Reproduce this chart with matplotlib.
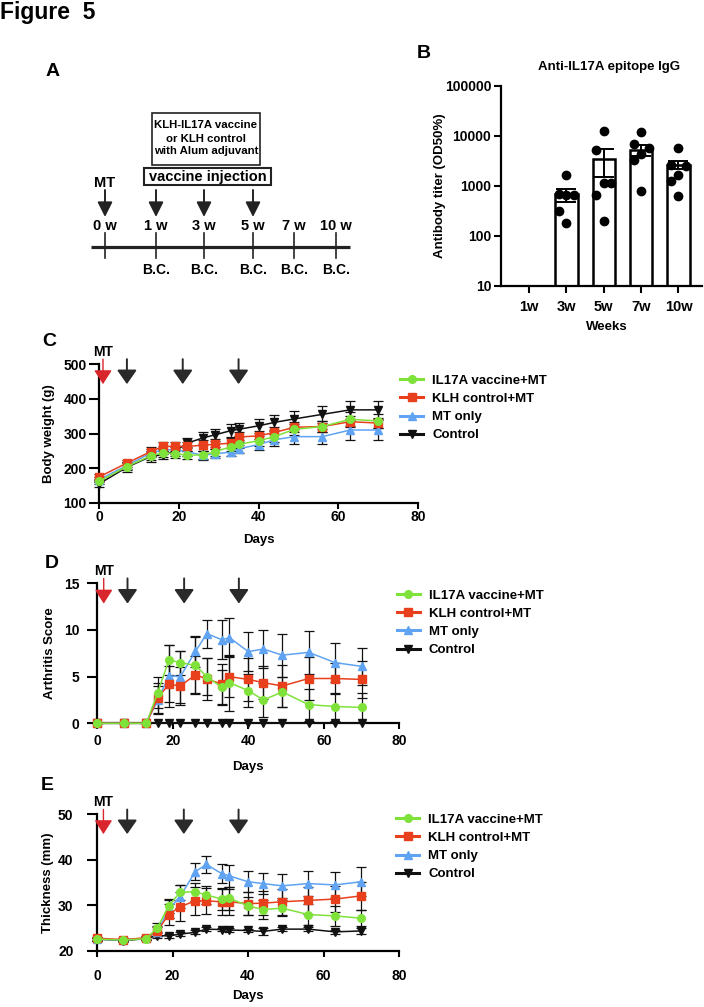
import numpy as np
import matplotlib
matplotlib.use("Agg")
import matplotlib.pyplot as plt
from matplotlib.lines import Line2D
from matplotlib.patches import Rectangle

plt.rcParams['font.family'] = ['Liberation Sans', 'DejaVu Sans']
plt.rcParams['font.weight'] = 'bold'
plt.rcParams['axes.labelweight'] = 'bold'
plt.rcParams['axes.titleweight'] = 'bold'

# ---------------- data ----------------
timeline_weeks = ["0 w", "1 w", "3 w", "5 w", "7 w", "10 w"]
bc_weeks = ["1 w", "3 w", "5 w", "7 w", "10 w"]
vaccine_weeks = ["1 w", "3 w", "5 w"]

titer_weeks = ["1w", "3w", "5w", "7w", "10w"]
titer_mean = [np.nan, 667, 3420, 5250, 2640]
titer_sem = [np.nan, 205, 1930, 1300, 500]
titer_points = [
    [],
    [1600, 680, 650, 640, 310, 180],
    [12200, 5200, 1140, 1140, 640, 200],
    [12000, 6800, 5600, 4300, 3300, 780],
    [5600, 2600, 2500, 1600, 1250, 620],
]

days = [0, 7, 13, 16, 19, 22, 26, 29, 33, 35, 40, 44, 49, 56, 63, 70]
groups = ["IL17A vaccine+MT", "KLH control+MT", "MT only", "Control"]

bw_mean = {
    "IL17A vaccine+MT": [162, 205, 236, 244, 242, 238, 238, 248, 261, 269, 279, 291, 312, 320, 341, 336],
    "KLH control+MT":   [175, 215, 248, 263, 263, 263, 266, 269, 272, 290, 293, 303, 318, 320, 334, 330],
    "MT only":          [167, 208, 244, 253, 253, 248, 237, 242, 246, 256, 268, 282, 291, 291, 310, 310],
    "Control":          [155, 203, 234, 239, 248, 272, 287, 296, 308, 312, 322, 332, 342, 355, 368, 368],
}
bw_err = {
    "IL17A vaccine+MT": [7, 10, 12, 12, 12, 12, 12, 12, 12, 12, 15, 15, 15, 15, 20, 20],
    "KLH control+MT":   [8, 10, 12, 12, 12, 12, 15, 15, 15, 15, 15, 15, 15, 15, 15, 15],
    "MT only":          [7, 10, 12, 12, 12, 12, 12, 12, 12, 12, 15, 18, 22, 22, 28, 28],
    "Control":          [8, 15, 15, 12, 12, 15, 17, 18, 18, 18, 20, 22, 24, 25, 25, 25],
}

as_mean = {
    "IL17A vaccine+MT": [0, 0, 0, 3.3, 6.8, 6.5, 6.2, 5.0, 3.86, 4.36, 3.5, 2.5, 3.36, 2.0, 1.8, 1.7],
    "KLH control+MT":   [0, 0, 0, 2.7, 4.2, 4.0, 5.2, 4.75, 4.2, 5.0, 4.7, 4.36, 4.0, 4.8, 4.8, 4.7],
    "MT only":          [0, 0, 0, 2.5, 5.07, 5.0, 7.7, 9.6, 8.96, 9.18, 7.68, 7.96, 7.3, 7.6, 6.5, 6.1],
    "Control":          [0] * 16,
}
as_err = {
    "IL17A vaccine+MT": [0, 0, 0, 1.7, 1.6, 1.3, 3.1, 2.0, 1.8, 3.0, 1.8, 1.8, 1.6, 1.7, 1.5, 1.6],
    "KLH control+MT":   [0, 0, 0, 1.6, 1.9, 2.0, 2.0, 2.3, 2.2, 2.2, 2.3, 1.8, 2.2, 2.3, 1.7, 2.0],
    "MT only":          [0, 0, 0, 1.5, 3.3, 2.8, 1.7, 1.5, 2.1, 2.1, 2.1, 2.0, 2.3, 2.3, 2.1, 2.0],
    "Control":          [0] * 16,
}

th_mean = {
    "IL17A vaccine+MT": [22.6, 22.4, 22.7, 25.1, 29.9, 32.9, 33.0, 32.3, 31.4, 31.6, 29.9, 29.1, 29.4, 28.0, 27.7, 27.2],
    "KLH control+MT":   [22.8, 22.5, 22.9, 24.4, 28.0, 29.7, 31.0, 31.0, 30.8, 30.8, 30.4, 30.5, 30.8, 31.1, 31.4, 32.1],
    "MT only":          [22.6, 22.4, 22.8, 24.2, 29.2, 31.9, 37.4, 39.0, 37.0, 36.5, 35.2, 34.8, 34.3, 34.8, 34.5, 35.2],
    "Control":          [22.6, 22.3, 22.7, 23.4, 23.3, 23.7, 24.1, 24.8, 24.7, 24.6, 24.5, 24.3, 24.8, 24.8, 24.2, 24.4],
}
th_err = {
    "IL17A vaccine+MT": [0.3, 0.3, 0.3, 1.0, 1.5, 1.6, 2.0, 2.0, 2.5, 2.5, 2.0, 2.0, 1.7, 2.3, 2.2, 1.8],
    "KLH control+MT":   [0.3, 0.3, 0.3, 1.0, 2.4, 3.2, 3.0, 2.9, 2.8, 2.8, 2.6, 2.6, 2.9, 2.9, 2.9, 3.0],
    "MT only":          [0.3, 0.3, 0.3, 1.0, 2.0, 2.5, 1.9, 1.9, 2.0, 2.4, 2.3, 2.4, 2.6, 2.7, 2.8, 3.2],
    "Control":          [0.3, 0.3, 0.3, 0.5, 0.4, 0.4, 0.4, 0.4, 0.4, 0.5, 0.4, 0.8, 0.4, 0.4, 0.4, 0.6],
}

mt_day_c, vacc_days_c = 1, [7, 21, 35]
mt_day_de, vacc_days_de = 1.7, [8, 23, 37.5]

# ---------------- styles ----------------
colors = {"IL17A vaccine+MT": "#7fe23a", "KLH control+MT": "#e8401c",
          "MT only": "#5fa3f2", "Control": "#111111"}
markers = {"IL17A vaccine+MT": "o", "KLH control+MT": "s", "MT only": "^", "Control": "v"}
zorders = {"IL17A vaccine+MT": 6, "KLH control+MT": 5, "MT only": 4, "Control": 3}

W, H = 704, 1007
fig = plt.figure(figsize=(W / 100, H / 100), dpi=100)


def px_axes(l, t, r, b):
    return fig.add_axes([l / W, 1 - b / H, (r - l) / W, (b - t) / H])


ov = fig.add_axes([0, 0, 1, 1], zorder=-1)
ov.set_xlim(0, W)
ov.set_ylim(H, 0)
ov.axis('off')

# titles / panel letters
ov.text(0, 12, "Figure  5", fontsize=16.5, ha='left', va='center')
for letter, (x, y) in {"A": (53, 71), "B": (424, 53), "C": (49, 342),
                       "D": (52, 564), "E": (47, 785)}.items():
    ov.text(x, y, letter, fontsize=14, ha='center', va='center')

# ---------------- panel A ----------------
tl_x = [105, 156, 204, 253, 294, 336]
ov.plot([91, 350], [246.5, 246.5], color='#222222', lw=2.3, solid_capstyle='butt')
for xi, lab in zip(tl_x, timeline_weeks):
    ov.plot([xi, xi], [233, 258], color='#222222', lw=1.2)
    ov.text(xi, 226, lab, fontsize=10.5, ha='center', va='center')
    if lab in bc_weeks:
        ov.text(xi, 270, "B.C.", fontsize=10, ha='center', va='center')
    if lab in vaccine_weeks or lab == "0 w":
        ov.annotate('', xy=(xi, 217), xytext=(xi, 190),
                    arrowprops=dict(arrowstyle='-|>,head_length=0.6,head_width=0.3',
                                    lw=1.4, color='#222222', shrinkA=0, shrinkB=0,
                                    mutation_scale=15))
ov.text(tl_x[0], 183, "MT", fontsize=10.5, ha='center', va='center')
ov.add_patch(Rectangle((144, 168), 127, 17, fill=False, lw=1.5, ec='#222222'))
ov.text(207.5, 176.5, "vaccine injection", fontsize=10.5, ha='center', va='center')
ov.add_patch(Rectangle((152, 113), 108, 52, fill=False, lw=1.2, ec='#222222'))
for yy, line in zip([125.5, 138.5, 151.5],
                    ["KLH-IL17A vaccine", "or KLH control", "with Alum adjuvant"]):
    ov.text(206, yy, line, fontsize=8.2, ha='center', va='center')

# ---------------- panel B ----------------
axB = px_axes(501, 85.7, 702, 285.7)
xB = np.arange(len(titer_weeks))
axB.set_yscale('log')
axB.set_ylim(10, 100000)
axB.set_xlim(-0.75, 4.63)
axB.bar(xB, titer_mean, width=0.6, color='white', edgecolor='black', lw=1.8, zorder=2)
axB.errorbar(xB, titer_mean, yerr=titer_sem, fmt='none', ecolor='black',
             elinewidth=1.4, capsize=7, capthick=1.4, zorder=3)
dot_off = [0, -0.2, 0.2, 0, -0.2, 0]
for i, pts in enumerate(titer_points):
    for j, v in enumerate(pts):
        axB.plot(xB[i] + dot_off[j], v, 'o', color='black', ms=6, zorder=4, clip_on=False)
axB.set_yticks([10, 100, 1000, 10000, 100000])
axB.set_yticklabels(["10", "100", "1000", "10000", "100000"])
axB.yaxis.set_minor_locator(matplotlib.ticker.NullLocator())
axB.set_xticks(xB)
axB.set_xticklabels(titer_weeks)
for s in ['top', 'right']:
    axB.spines[s].set_visible(False)
for s in ['left', 'bottom']:
    axB.spines[s].set_linewidth(1.6)
axB.tick_params(axis='y', width=1.5, length=5, labelsize=10, pad=2)
axB.tick_params(axis='x', width=1.5, length=5, labelsize=10.5, pad=5.5)
axB.set_ylabel("Antibody titer (OD50%)", fontsize=9.5)
axB.yaxis.set_label_coords(-0.272, 0.5)
axB.set_xlabel("Weeks", fontsize=9.5)
axB.xaxis.set_label_coords(0.526, -0.179)
axB.text(0.54, 1.093, "Anti-IL17A epitope IgG", transform=axB.transAxes,
         ha='center', va='center', fontsize=9.5)


# ---------------- panels C-E ----------------
def line_panel(ax, mean, err, ylim, yticks, ylabel, mt_day, vdays, xpad, ypad,
               ylab_x, xlab_y, leg_xy):
    for g in ["Control", "MT only", "KLH control+MT", "IL17A vaccine+MT"]:
        m = np.array(mean[g], dtype=float)
        e = np.array(err[g], dtype=float)
        if np.any(e > 0):
            ax.errorbar(days, m, yerr=e, fmt='none', ecolor='#111111', elinewidth=0.9,
                        capsize=3.5, capthick=0.9, zorder=2, clip_on=False)
        ax.plot(days, m, color=colors[g], lw=1.1, marker=markers[g], ms=5.5,
                mec=colors[g], zorder=zorders[g], clip_on=False)
    ax.set_xlim(0, 80)
    ax.set_ylim(*ylim)
    ax.set_xticks([0, 20, 40, 60, 80])
    ax.set_yticks(yticks)
    for s in ['top', 'right']:
        ax.spines[s].set_visible(False)
    for s in ['left', 'bottom']:
        ax.spines[s].set_linewidth(1.6)
    ax.tick_params(axis='x', width=1.5, length=4, labelsize=10, pad=xpad)
    ax.tick_params(axis='y', width=1.5, length=7, labelsize=10, pad=ypad)
    ax.set_ylabel(ylabel, fontsize=9.5)
    ax.yaxis.set_label_coords(ylab_x, 0.5)
    ax.set_xlabel("Days", fontsize=9.5)
    ax.xaxis.set_label_coords(0.5, xlab_y)
    tr = ax.get_xaxis_transform()
    ax.annotate('', xy=(mt_day, 0.855), xytext=(mt_day, 1.035), xycoords=tr, textcoords=tr,
                arrowprops=dict(arrowstyle='-|>,head_length=0.86,head_width=0.55',
                                lw=1.0, color='#d9262c', shrinkA=0, shrinkB=0,
                                mutation_scale=10), annotation_clip=False, zorder=8)
    ax.text(mt_day, 1.087, "MT", transform=tr, ha='center', va='center', fontsize=10)
    for d in vdays:
        ax.annotate('', xy=(d, 0.855), xytext=(d, 1.035), xycoords=tr, textcoords=tr,
                    arrowprops=dict(arrowstyle='-|>,head_length=0.86,head_width=0.6',
                                    lw=1.4, color='#2a2a2a', shrinkA=0, shrinkB=0,
                                    mutation_scale=10), annotation_clip=False, zorder=8)
    handles = [Line2D([], [], color=colors[g], marker=markers[g], ms=5.5, lw=2.2,
                      mec=colors[g]) for g in groups]
    ax.legend(handles, groups, loc='upper left', bbox_to_anchor=leg_xy, frameon=False,
              fontsize=9.5, handlelength=1.75, handletextpad=0.7, labelspacing=0.45,
              borderpad=0, borderaxespad=0)


axC = px_axes(99, 364, 418, 503)
line_panel(axC, bw_mean, bw_err, (100, 500), [100, 200, 300, 400, 500], "Body weight (g)",
           mt_day_c, vacc_days_c, 1, 2, -0.139, -0.223, (0.944, 0.923))

axD = px_axes(97.3, 583.3, 399.3, 723.3)
line_panel(axD, as_mean, as_err, (0, 15), [0, 5, 10, 15], "Arthritis Score",
           mt_day_de, vacc_days_de, 4, 6, -0.137, -0.269, (0.991, 0.956))

axE = px_axes(97, 814.3, 399, 951)
line_panel(axE, th_mean, th_err, (20, 50), [20, 30, 40, 50], "Thickness (mm)",
           mt_day_de, vacc_days_de, 9, 10, -0.141, -0.285, (0.99, 1.005))

fig.savefig("out.png", dpi=100)
